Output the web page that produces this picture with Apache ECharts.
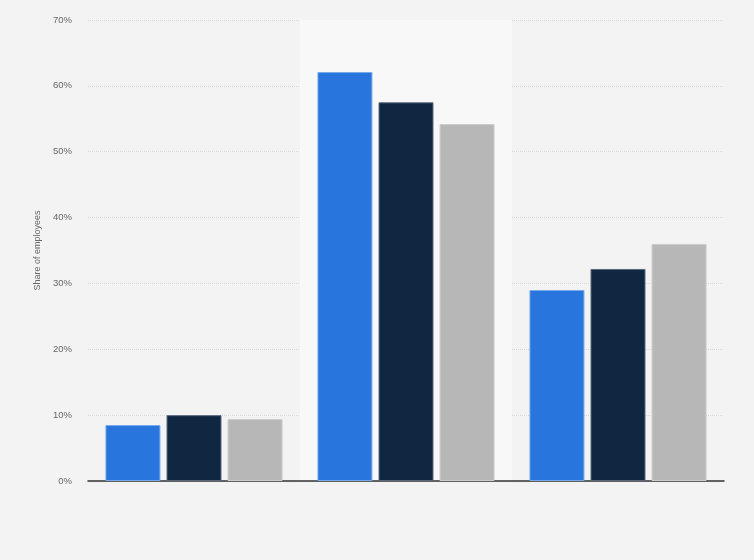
<!DOCTYPE html>
<html>
<head>
<meta charset="utf-8">
<script src="https://cdn.jsdelivr.net/npm/echarts@6/dist/echarts.min.js"></script>
<style>
html,body{margin:0;padding:0;background:#f3f3f3;}
#chart{width:754px;height:560px;}
</style>
</head>
<body>
<div id="chart"></div>
<script>
var categories = ['Group 1', 'Group 2', 'Group 3'];
var seriesA = [8.5, 62.1, 29.0];
var seriesB = [10.0, 57.5, 32.2];
var seriesC = [9.4, 54.2, 36.0];
var yTicks = [0, 10, 20, 30, 40, 50, 60, 70];

var chart = echarts.init(document.getElementById('chart'));
function bar(name, data, color, border) {
  return {
    name: name, type: 'bar', data: data, barWidth: 55, barGap: '11%',
    itemStyle: { color: color, borderColor: border, borderWidth: 1 },
    silent: true
  };
}
chart.setOption({
  backgroundColor: '#f3f3f3',
  animation: false,
  grid: { left: 88, right: 30, top: 20, bottom: 79 },
  xAxis: {
    type: 'category', data: categories,
    axisLine: { lineStyle: { color: '#333', width: 1.5 } },
    axisTick: { show: false },
    axisLabel: { show: false },
    splitArea: { show: true, areaStyle: { color: ['rgba(0,0,0,0)', '#f8f8f8'] } }
  },
  yAxis: {
    type: 'value', min: yTicks[0], max: yTicks[yTicks.length - 1], interval: 10,
    name: 'Share of employees', nameLocation: 'middle', nameGap: 44,
    nameTextStyle: { color: '#666', fontSize: 9, fontFamily: 'Liberation Sans, Arial' },
    axisLine: { show: false }, axisTick: { show: false },
    axisLabel: { formatter: '{value}%', color: '#666', fontSize: 9.5, fontFamily: 'Liberation Sans, Arial', margin: 16 },
    splitLine: { lineStyle: { color: '#d8d8d8', type: [1, 1], width: 1 } }
  },
  series: [
    bar('A', seriesA, '#2876dd', '#7aa9ea'),
    bar('B', seriesB, '#0f2741', '#5a6a7c'),
    bar('C', seriesC, '#b7b7b7', '#cccccc')
  ]
});
</script>
</body>
</html>
